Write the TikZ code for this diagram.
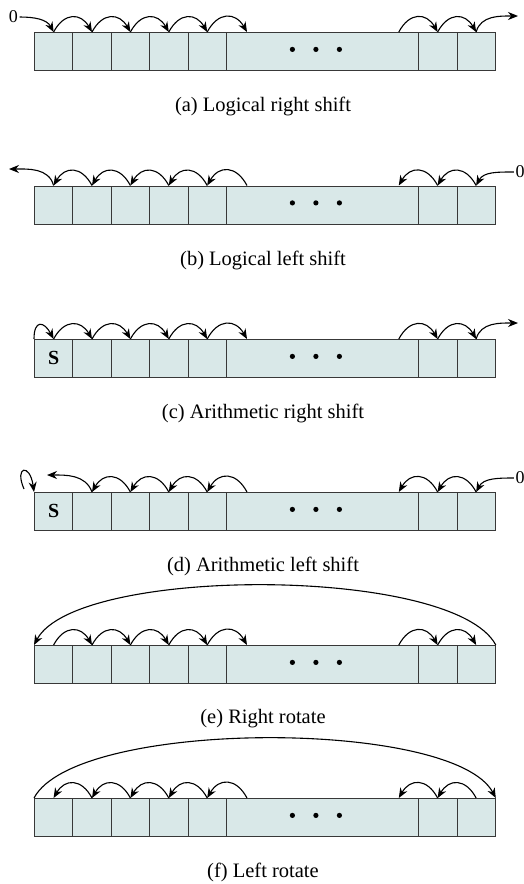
\documentclass[tikz,border=0pt]{standalone}
\usepackage{fontspec}
\setmainfont{Liberation Serif}
\usetikzlibrary{arrows.meta,calc}
\definecolor{regfill}{HTML}{D9E8E8}
\definecolor{regline}{HTML}{383838}
\tikzset{
  cell/.style={draw=regline, fill=regfill, line width=0.8pt, minimum height=38pt, inner sep=0pt, anchor=north west},
  arr/.style={-{Stealth[length=10pt,width=8pt]}, line width=1.1pt, black},
  hop/.style={out=62, in=120, looseness=1.5},
  lhop/.style={out=118, in=60, looseness=1.5},
  caption/.style={font=\fontsize{20.5}{24}\selectfont, inner sep=0pt},
  zerolbl/.style={font=\fontsize{18}{20}\selectfont, inner sep=1.5pt},
  sbit/.style={font=\fontsize{20}{22}\selectfont\bfseries, inner sep=0pt},
  dot/.style={fill=black}
}
\newcommand\regrow[2]{%
  \foreach \i/\x/\w in {1/34/38.4,2/72.4/38.4,3/110.8/38.4,4/149.2/38.4,5/187.6/38.4,6/226/192,7/418/38.5,8/456.5/38.5}{
    \node[cell, minimum width=\w pt] (#1\i) at (\x,-#2) {};
  }
  \coordinate (#16l) at ($(#16.north west)+(21,0)$);
  \coordinate (#16r) at ($(#16.north east)+(-20,0)$);
  \foreach \dx in {-30,-6.5,17}{
    \fill[dot] ($(#16.center)+(\dx,2)$) circle (2.6pt);
  }
}
\begin{document}
\begin{tikzpicture}[x=1pt,y=1pt]
\useasboundingbox (0,0) rectangle (524,-884);

% ---------- (a) Logical right shift ----------
\regrow{a}{32}
\node[zerolbl] (a0) at (13.5,-17) {0};
\draw[arr] (a0.east) to[out=0,in=118] (a1.north);
\draw[arr] (a1.north) to[hop] (a2.north);
\draw[arr] (a2.north) to[hop] (a3.north);
\draw[arr] (a3.north) to[hop] (a4.north);
\draw[arr] (a4.north) to[hop] (a5.north);
\draw[arr] (a5.north) to[hop] (a6l);
\draw[arr] (a6r) to[hop] (a7.north);
\draw[arr] (a7.north) to[hop] (a8.north);
\coordinate (aout) at (518,-16);
\draw[arr] (a8.north) to[out=75,in=180] (aout);
\node[caption] (acap) at (263,-106) {(a) Logical right shift};

% ---------- (b) Logical left shift ----------
\regrow{b}{185.5}
\node[zerolbl] (b0) at (520,-172) {0};
\draw[arr] (b0.west) to[out=180,in=62] (b8.north);
\draw[arr] (b8.north) to[lhop] (b7.north);
\draw[arr] (b7.north) to[lhop] (b6r);
\draw[arr] (b6l) to[lhop] (b5.north);
\draw[arr] (b5.north) to[lhop] (b4.north);
\draw[arr] (b4.north) to[lhop] (b3.north);
\draw[arr] (b3.north) to[lhop] (b2.north);
\draw[arr] (b2.north) to[lhop] (b1.north);
\coordinate (bout) at (9,-169);
\draw[arr] (b1.north) to[out=105,in=0] (bout);
\node[caption] (bcap) at (263,-260) {(b) Logical left shift};

% ---------- (c) Arithmetic right shift ----------
\regrow{c}{339}
\node[sbit] (cs) at (c1.center) {S};
\draw[arr] (c1.north west) to[out=90,in=118,looseness=2.6] (c1.north);
\draw[arr] (c1.north) to[hop] (c2.north);
\draw[arr] (c2.north) to[hop] (c3.north);
\draw[arr] (c3.north) to[hop] (c4.north);
\draw[arr] (c4.north) to[hop] (c5.north);
\draw[arr] (c5.north) to[hop] (c6l);
\draw[arr] (c6r) to[hop] (c7.north);
\draw[arr] (c7.north) to[hop] (c8.north);
\coordinate (cout) at (518,-323);
\draw[arr] (c8.north) to[out=75,in=180] (cout);
\node[caption] (ccap) at (263,-413) {(c) Arithmetic right shift};

% ---------- (d) Arithmetic left shift ----------
\regrow{d}{492}
\node[sbit] (ds) at (d1.center) {S};
\coordinate (dloop) at (24,-489);
\draw[arr] (dloop) .. controls (14,-466) and (30,-463) .. (d1.north west);
\coordinate (dout) at (47,-475);
\draw[arr] (d2.north) to[out=110,in=0] (dout);
\node[zerolbl] (d0) at (520,-478) {0};
\draw[arr] (d0.west) to[out=180,in=62] (d8.north);
\draw[arr] (d8.north) to[lhop] (d7.north);
\draw[arr] (d7.north) to[lhop] (d6r);
\draw[arr] (d6l) to[lhop] (d5.north);
\draw[arr] (d5.north) to[lhop] (d4.north);
\draw[arr] (d4.north) to[lhop] (d3.north);
\draw[arr] (d3.north) to[lhop] (d2.north);
\node[caption] (dcap) at (263,-566) {(d) Arithmetic left shift};

% ---------- (e) Right rotate ----------
\regrow{e}{645}
\draw[arr] (e1.north) to[hop] (e2.north);
\draw[arr] (e2.north) to[hop] (e3.north);
\draw[arr] (e3.north) to[hop] (e4.north);
\draw[arr] (e4.north) to[hop] (e5.north);
\draw[arr] (e5.north) to[hop] (e6l);
\draw[arr] (e6r) to[hop] (e7.north);
\draw[arr] (e7.north) to[hop] (e8.north);
\draw[arr] (e8.north east) to[out=118,in=62,looseness=0.5] (e1.north west);
\node[caption] (ecap) at (263,-719) {(e) Right rotate};

% ---------- (f) Left rotate ----------
\regrow{f}{798}
\draw[arr] (f8.north) to[lhop] (f7.north);
\draw[arr] (f7.north) to[lhop] (f6r);
\draw[arr] (f6l) to[lhop] (f5.north);
\draw[arr] (f5.north) to[lhop] (f4.north);
\draw[arr] (f4.north) to[lhop] (f3.north);
\draw[arr] (f3.north) to[lhop] (f2.north);
\draw[arr] (f2.north) to[lhop] (f1.north);
\draw[arr] (f1.north west) to[out=62,in=118,looseness=0.5] (f8.north east);
\node[caption] (fcap) at (263,-872) {(f) Left rotate};
\end{tikzpicture}
\end{document}
